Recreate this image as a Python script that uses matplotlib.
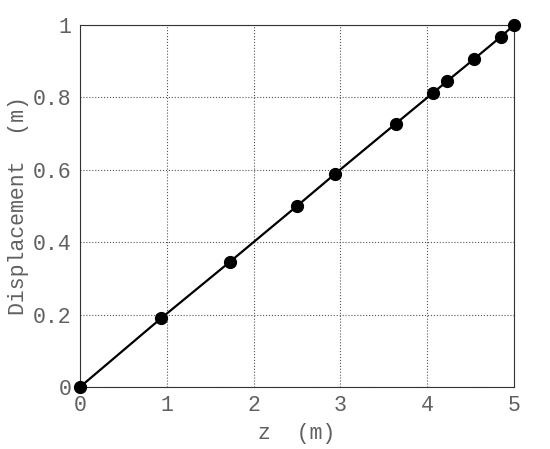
import numpy as np
import matplotlib.pyplot as plt

z = [0.0, 0.935, 1.723, 2.5, 2.935, 3.635, 4.07, 4.23, 4.54, 4.846, 5.0]
disp = [0.0, 0.19, 0.345, 0.5, 0.588, 0.727, 0.813, 0.845, 0.906, 0.967, 1.0]
xticks = [0, 1, 2, 3, 4, 5]
yticks = [0, 0.2, 0.4, 0.6, 0.8, 1]

plt.rcParams['font.family'] = 'Liberation Mono'

fig = plt.figure(figsize=(5.5, 4.49), dpi=100)
ax = fig.add_axes([80/550, 1-387/449, 434/550, 362/449])
ax.plot(z, disp, color='black', linewidth=1.6, marker='o', markersize=8.5, clip_on=False, zorder=3)
ax.set_xlim(0, 5)
ax.set_ylim(0, 1)
ax.set_xticks(xticks)
ax.set_yticks(yticks)
ax.set_xticklabels([str(t) for t in xticks])
ax.set_yticklabels(['0', '0.2', '0.4', '0.6', '0.8', '1'])
ax.tick_params(length=0, labelsize=15.5, colors='#606060', pad=6)
ax.grid(True, color='#555555', linestyle=':', linewidth=0.8)
for s in ax.spines.values():
    s.set_color('#333333')
ax.set_xlabel('z  (m)', fontsize=15.5, color='#606060', labelpad=5)
ax.set_ylabel('Displacement  (m)', fontsize=15.5, color='#606060', labelpad=3)
fig.savefig('out.png')
